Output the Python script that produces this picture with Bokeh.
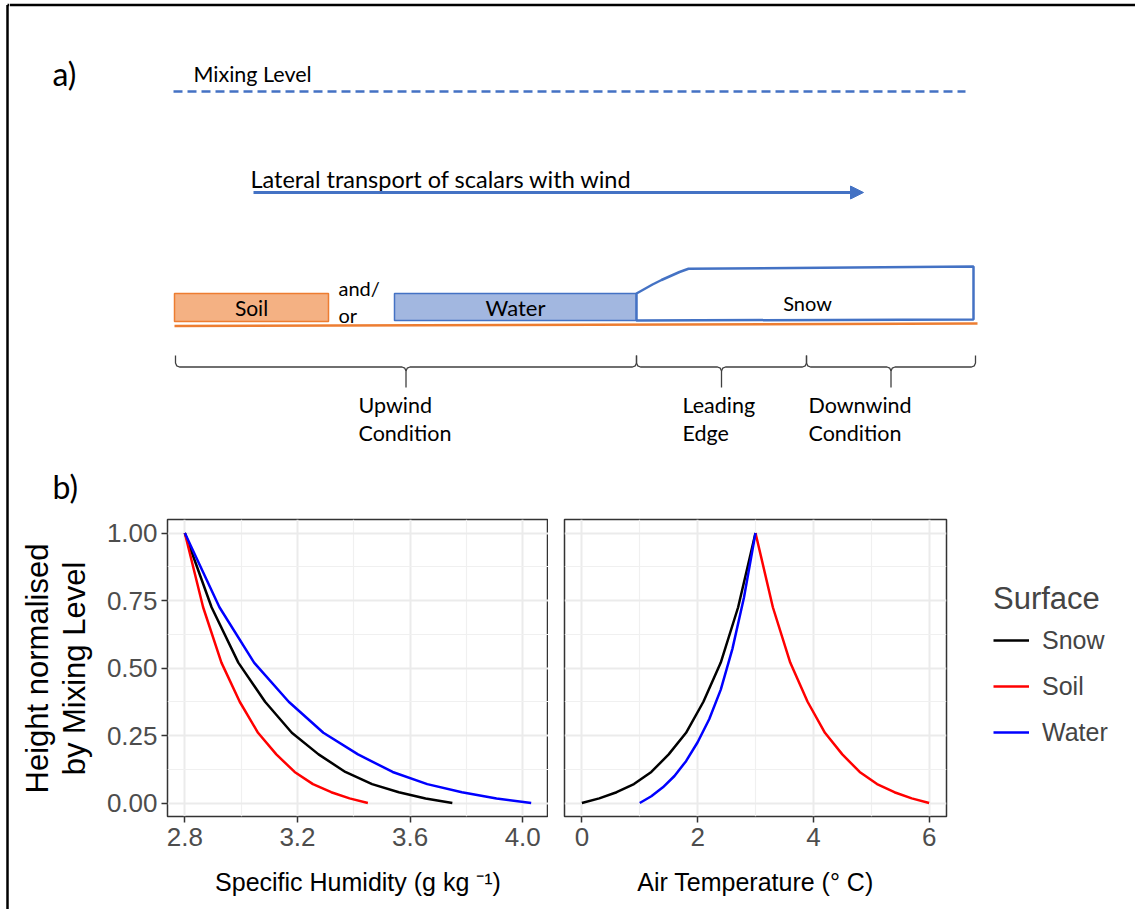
from math import pi

from bokeh.core.properties import value
from bokeh.embed import file_html
from bokeh.layouts import column, row
from bokeh.models import (Arrow, FixedTicker, Legend, LegendItem, NormalHead,
                          NumeralTickFormatter, Range1d)
from bokeh.plotting import figure
from bokeh.resources import INLINE

# ---------------------------------------------------------------- panel (b) data
surfaces = ["Snow", "Soil", "Water"]
surface_colours = ["#000000", "#FF0000", "#0000FF"]

# specific humidity (g kg-1) against height normalised by the mixing level
snow_q = [2.80, 2.895, 2.99, 3.085, 3.18, 3.275, 3.37, 3.465, 3.56, 3.655, 3.75]
soil_q = [2.80, 2.865, 2.93, 2.995, 3.06, 3.125, 3.19, 3.255, 3.32, 3.385, 3.45]
water_q = [2.80, 2.923, 3.046, 3.169, 3.292, 3.415, 3.538, 3.661, 3.784, 3.907, 4.03]
q_height = [1.00, 0.725, 0.52, 0.375, 0.26, 0.18, 0.115, 0.07, 0.04, 0.017, 0.00]

# air temperature (deg C) against normalised height
snow_t = [0.0, 0.3, 0.6, 0.9, 1.2, 1.5, 1.8, 2.1, 2.4, 2.7, 3.0]
snow_t_height = [0.00, 0.017, 0.04, 0.07, 0.115, 0.18, 0.26, 0.375, 0.52, 0.725, 1.00]
soil_t = [3.0, 3.3, 3.6, 3.9, 4.2, 4.5, 4.8, 5.1, 5.4, 5.7, 6.0]
soil_t_height = [1.00, 0.725, 0.52, 0.375, 0.26, 0.18, 0.115, 0.07, 0.04, 0.017, 0.00]
water_t = [1.0, 1.2, 1.4, 1.6, 1.8, 2.0, 2.2, 2.4, 2.6, 2.8, 3.0]
water_t_height = [0.00, 0.025, 0.058, 0.10, 0.155, 0.225, 0.31, 0.42, 0.57, 0.76, 1.00]

height_ticks = [0.0, 0.25, 0.5, 0.75, 1.0]
height_minor = [0.125, 0.375, 0.625, 0.875]
humidity_ticks = [2.8, 3.2, 3.6, 4.0]
humidity_minor = [3.0, 3.4, 3.8]
temperature_ticks = [0, 2, 4, 6]
temperature_minor = [1, 3, 5]

y_title = ["Height normalised", "by Mixing Level"]
humidity_title = "Specific Humidity (g kg \u207b\u00b9)"
temperature_title = "Air Temperature (\u00b0 C)"
legend_title = "Surface"

# ---------------------------------------------------------------- panel (a) sketch
# geometry of the schematic, in page pixels (y grows downwards)
mixing_level_x = [173, 965]
mixing_level_y = [91, 91]
wind_arrow_x = [253, 863]
wind_arrow_y = 192
soil_box = dict(left=174, right=328, top=293, bottom=321)
water_box = dict(left=394, right=636, top=293, bottom=320)
snow_outline_x = [636, 636, 644, 652, 661, 670, 679, 688, 973, 973]
snow_outline_y = [320, 293, 288.5, 284, 279.5, 275.5, 271.5, 268.3, 266, 319]
ground_x = [174, 977]
ground_y = [325.5, 323]
brace_edges = [175, 636, 806, 975]
brace_levels = dict(top=355, mid=366.5, tip=387)

diagram_texts = [
    # text, x, y, align, size
    ("Mixing Level", 193, 73, "left", "21.5px"),
    ("Lateral transport of scalars with wind", 250, 178, "left", "23.5px"),
    ("Soil", 251, 307, "center", "21px"),
    ("and/", 338, 287, "left", "20px"),
    ("or", 338, 314, "left", "20px"),
    ("Water", 515, 307, "center", "22px"),
    ("Snow", 807, 302, "center", "20px"),
    ("Upwind", 358, 404, "left", "21.5px"),
    ("Condition", 358, 432, "left", "21.5px"),
    ("Leading", 682, 404, "left", "21.5px"),
    ("Edge", 682, 432, "left", "21.5px"),
    ("Downwind", 808, 404, "left", "21.5px"),
    ("Condition", 808, 432, "left", "21.5px"),
]

BLUE = "#4472C4"
ORANGE = "#ED7D31"
SKETCH_FONT = "Lato"
PLOT_FONT = "Liberation Sans"

W, H, TOP_H = 1135, 909, 449
BOTTOM_H = H - TOP_H
EDGE_W = 9                      # strip holding the left frame line
GUTTER_W = 100                  # y title column of panel (b), page x
FRAME_TOP, FRAME_H, FRAME_BOTTOM_PAD = 70, 297, 93


def blank_canvas(x0, x1, y0, y1):
    return figure(width=x1 - x0, height=y1 - y0, x_range=Range1d(x0, x1),
                  y_range=Range1d(y1, y0), x_axis_type=None, y_axis_type=None,
                  toolbar_location=None, output_backend="svg", min_border=0,
                  outline_line_color=None, background_fill_color="white",
                  border_fill_color="white")


def brace(xa, xb, top, mid, tip, r=4.0):
    xc = (xa + xb) / 2
    left_x = [xa, xa, xa + 1.2, xa + r, xc - r, xc - 1.2, xc, xc]
    left_y = [top, mid - r, mid - 1.2, mid, mid, mid + 1.2, mid + r, tip]
    right_x = [xc, xc + 1.2, xc + r, xb - r, xb - 1.2, xb, xb]
    right_y = [mid + r, mid + 1.2, mid, mid, mid - 1.2, mid - r, top]
    return [left_x, right_x], [left_y, right_y]


# ---------------------------------------------------------------- frame line strip
edge = blank_canvas(0, EDGE_W, 0, H)
edge.line([7, 7], [4.5, H], line_color="black", line_width=2.5)
edge.line([7, EDGE_W], [4.5, 4.5], line_color="black", line_width=2.5)

# ---------------------------------------------------------------- schematic
top = blank_canvas(EDGE_W, W, 0, TOP_H)
top.line([EDGE_W, W], [4.5, 4.5], line_color="black", line_width=2.5)
top.text(x=[52], y=[73], text=["a)"], text_font=value(SKETCH_FONT),
         text_font_size="32px", text_align="left", text_baseline="middle",
         text_color="black")

top.line(mixing_level_x, mixing_level_y, line_color=BLUE, line_width=2.5,
         line_dash="9 5")
top.add_layout(Arrow(end=NormalHead(size=13, fill_color=BLUE, line_color=BLUE),
                     x_start=wind_arrow_x[0], y_start=wind_arrow_y,
                     x_end=wind_arrow_x[1], y_end=wind_arrow_y,
                     line_color=BLUE, line_width=3))

top.quad(left=[soil_box["left"]], right=[soil_box["right"]], top=[soil_box["top"]],
         bottom=[soil_box["bottom"]], fill_color="#F4B183", line_color=ORANGE,
         line_width=1.5)
top.quad(left=[water_box["left"]], right=[water_box["right"]], top=[water_box["top"]],
         bottom=[water_box["bottom"]], fill_color="#A2B7E0", line_color=BLUE,
         line_width=1.5)
top.patch(snow_outline_x, snow_outline_y, fill_color="white", line_color=BLUE,
          line_width=2.5)
top.line(ground_x, ground_y, line_color=ORANGE, line_width=2.5)

brace_xs, brace_ys = [], []
for xa, xb in zip(brace_edges[:-1], brace_edges[1:]):
    bx, by = brace(xa, xb, brace_levels["top"], brace_levels["mid"], brace_levels["tip"])
    brace_xs += bx
    brace_ys += by
top.multi_line(brace_xs, brace_ys, line_color="#404040", line_width=1.3)

for txt, tx, ty, align, size in diagram_texts:
    top.text(x=[tx], y=[ty], text=[txt], text_font=value(SKETCH_FONT),
             text_font_size=size, text_align=align, text_baseline="middle",
             text_color="black")

# ---------------------------------------------------------------- y title of (b)
# same border layout as the profile panels, so the row keeps the frames aligned
frame_top_y = TOP_H + FRAME_TOP
frame_bottom_y = frame_top_y + FRAME_H
gutter = figure(frame_width=GUTTER_W - EDGE_W, frame_height=FRAME_H, min_border_left=0,
                min_border_right=0, min_border_top=FRAME_TOP,
                min_border_bottom=FRAME_BOTTOM_PAD, title="b)",
                x_range=Range1d(EDGE_W, GUTTER_W),
                y_range=Range1d(frame_bottom_y, frame_top_y),
                x_axis_type=None, y_axis_type=None, toolbar_location=None,
                output_backend="svg", outline_line_color=None)
gutter.title.text_font = SKETCH_FONT
gutter.title.text_font_size = "32px"
gutter.title.text_font_style = "normal"
gutter.title.text_color = "black"
gutter.title.align = "left"
gutter.title.offset = 52 - EDGE_W
gutter.title.standoff = 28
gutter.text(x=[37, 74], y=[668, 668], text=y_title, angle=pi / 2,
            text_font=value(PLOT_FONT), text_font_size="31px", text_align="center",
            text_baseline="middle", text_color="black")


# ---------------------------------------------------------------- profile panels
def expanded(lo, hi, frac=0.05):
    pad = (hi - lo) * frac
    return Range1d(lo - pad, hi + pad)


def style_panel(p, x_ticks, x_minor, x_format, x_title, show_y):
    p.xaxis.ticker = FixedTicker(ticks=x_ticks, minor_ticks=x_minor)
    p.yaxis.ticker = FixedTicker(ticks=height_ticks, minor_ticks=height_minor)
    p.xaxis.formatter = NumeralTickFormatter(format=x_format)
    p.yaxis.formatter = NumeralTickFormatter(format="0.00")
    for ax in (p.xaxis, p.yaxis):
        ax.axis_line_color = None
        ax.major_tick_line_color = "#333333"
        ax.major_tick_line_width = 1.5
        ax.major_tick_out = 6
        ax.major_tick_in = 0
        ax.minor_tick_line_color = None
        ax.major_label_text_font = PLOT_FONT
        ax.major_label_text_font_size = "26px"
        ax.major_label_text_color = "#4D4D4D"
    p.xaxis.major_label_standoff = 5
    p.yaxis.major_label_standoff = 4
    p.xaxis.axis_label = x_title
    p.xaxis.axis_label_text_font = PLOT_FONT
    p.xaxis.axis_label_text_font_size = "25px"
    p.xaxis.axis_label_text_font_style = "normal"
    p.xaxis.axis_label_text_color = "black"
    p.xaxis.axis_label_standoff = 19
    p.yaxis.visible = show_y
    for g in (p.xgrid, p.ygrid):
        g.grid_line_color = "#EBEBEB"
        g.grid_line_width = 2
        g.minor_grid_line_color = "#F0F0F0"
        g.minor_grid_line_width = 1.2
    p.outline_line_color = "#333333"
    p.outline_line_width = 1.5


q_all = snow_q + soil_q + water_q
p_q = figure(frame_width=381, frame_height=FRAME_H, min_border_left=67, min_border_right=0,
             min_border_top=FRAME_TOP, min_border_bottom=FRAME_BOTTOM_PAD,
             x_range=expanded(min(q_all), max(q_all)), y_range=expanded(0, 1),
             toolbar_location=None, output_backend="svg")
style_panel(p_q, humidity_ticks, humidity_minor, "0.0", humidity_title, True)

t_all = snow_t + soil_t + water_t
p_t = figure(frame_width=382, frame_height=FRAME_H, min_border_left=16, min_border_right=188,
             min_border_top=FRAME_TOP, min_border_bottom=FRAME_BOTTOM_PAD,
             x_range=expanded(min(t_all), max(t_all)), y_range=expanded(0, 1),
             toolbar_location=None, output_backend="svg")
style_panel(p_t, temperature_ticks, temperature_minor, "0", temperature_title, False)

q_series = [(snow_q, q_height), (soil_q, q_height), (water_q, q_height)]
t_series = [(snow_t, snow_t_height), (soil_t, soil_t_height), (water_t, water_t_height)]

legend_items = []
for name, colour, (qx, qy), (tx, ty) in zip(surfaces, surface_colours, q_series, t_series):
    p_q.line(qx, qy, line_color=colour, line_width=2.5)
    r = p_t.line(tx, ty, line_color=colour, line_width=2.5)
    legend_items.append(LegendItem(label=name, renderers=[r]))

legend = Legend(items=legend_items, title=legend_title, location=(47, 69),
                title_text_font=PLOT_FONT, title_text_font_size="31px",
                title_text_font_style="normal", title_standoff=8,
                label_text_font=PLOT_FONT, label_text_font_size="25px",
                glyph_width=36, glyph_height=30, label_height=30, label_standoff=13,
                spacing=16, padding=0, margin=0, border_line_color=None,
                background_fill_alpha=0)
p_t.add_layout(legend, "right")

page = row(edge, column(top, row(gutter, p_q, p_t)))

with open("out.html", "w") as f:
    f.write(file_html(page, INLINE))
